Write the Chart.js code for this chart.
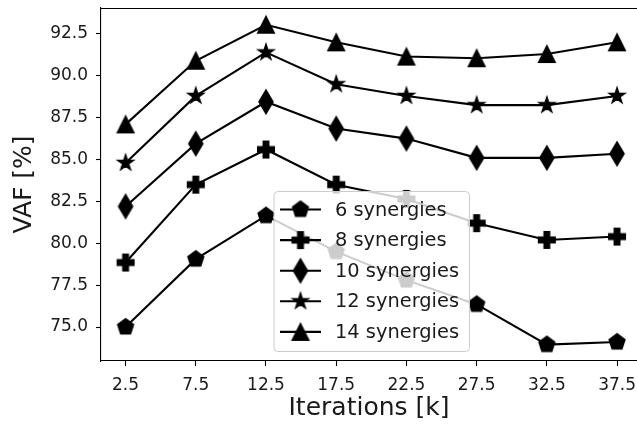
<!DOCTYPE html>
<html><head><meta charset="utf-8">
<script src="https://cdn.jsdelivr.net/npm/chart.js@4.4.1/dist/chart.umd.min.js"></script>
<style>html,body{margin:0;padding:0;background:#fff;overflow:hidden;width:637px;height:426px}canvas{display:block}</style>
</head><body>
<canvas id="c" width="637" height="426" style="width:637px;height:426px"></canvas>
<script>
// ---- data ----
const iterations = [2.5, 7.5, 12.5, 17.5, 22.5, 27.5, 32.5, 37.5];
const vaf6  = [75.0, 79.05, 81.65, 79.5, 77.8, 76.35, 73.95, 74.1];
const vaf8  = [78.85, 83.5, 85.6, 83.5, 82.65, 81.2, 80.2, 80.4];
const vaf10 = [82.2, 85.95, 88.45, 86.85, 86.25, 85.1, 85.1, 85.35];
const vaf12 = [84.8, 88.8, 91.4, 89.5, 88.8, 88.25, 88.25, 88.8];
const vaf14 = [87.1, 90.9, 93.05, 92.0, 91.15, 91.05, 91.3, 92.0];
const seriesLabels = ['6 synergies', '8 synergies', '10 synergies', '12 synergies', '14 synergies'];
const xTicks = [2.5, 7.5, 12.5, 17.5, 22.5, 27.5, 32.5, 37.5];
const yTicks = [75.0, 77.5, 80.0, 82.5, 85.0, 87.5, 90.0, 92.5];
const xTitle = 'Iterations [k]';
const yTitle = 'VAF [%]';

// ---- marker glyphs (matplotlib-like) ----
const MS = 16.67, EDGE = 1.39, FONT = 'DejaVu Sans', TXT = '#1a1a1a';
function marker(kind) {
  const c = document.createElement('canvas');
  c.width = 28; c.height = 28;
  const g = c.getContext('2d');
  const cx = 14, cy = 14, r = MS / 2;
  g.beginPath();
  if (kind === 'pentagon') {
    for (let k = 0; k < 5; k++) {
      const a = -Math.PI / 2 + k * 2 * Math.PI / 5;
      g.lineTo(cx + r * Math.cos(a), cy + r * Math.sin(a));
    }
  } else if (kind === 'plus') {
    const pts = [[-1,-3],[1,-3],[1,-1],[3,-1],[3,1],[1,1],[1,3],[-1,3],[-1,1],[-3,1],[-3,-1],[-1,-1]];
    pts.forEach(p => g.lineTo(cx + p[0] * MS / 6, cy + p[1] * MS / 6));
  } else if (kind === 'diamond') {
    const h = 0.7071 * MS, w = 0.6 * 0.7071 * MS;
    g.moveTo(cx, cy - h); g.lineTo(cx + w, cy); g.lineTo(cx, cy + h); g.lineTo(cx - w, cy);
  } else if (kind === 'star') {
    const ri = r * 0.381966;
    for (let k = 0; k < 10; k++) {
      const a = -Math.PI / 2 + k * Math.PI / 5;
      const rr = k % 2 === 0 ? r : ri;
      g.lineTo(cx + rr * Math.cos(a), cy + rr * Math.sin(a));
    }
  } else if (kind === 'triangle') {
    g.moveTo(cx, cy - r); g.lineTo(cx + r, cy + r); g.lineTo(cx - r, cy + r);
  }
  g.closePath();
  g.fillStyle = '#000'; g.fill();
  g.lineWidth = EDGE; g.lineJoin = 'miter'; g.strokeStyle = '#000'; g.stroke();
  return c;
}
const markerKinds = ['pentagon', 'plus', 'diamond', 'star', 'triangle'];
const seriesValues = [vaf6, vaf8, vaf10, vaf12, vaf14];

const datasets = seriesValues.map((vals, i) => ({
  label: seriesLabels[i],
  data: iterations.map((x, j) => ({ x: x, y: vals[j] })),
  borderColor: '#000',
  backgroundColor: '#000',
  borderWidth: 2.08,
  pointStyle: marker(markerKinds[i]),
  pointRadius: 9,
  tension: 0,
  fill: false
}));

const frame = {
  id: 'frame',
  afterDraw(chart) {
    const { ctx, chartArea: a } = chart;
    ctx.save();
    ctx.strokeStyle = '#000'; ctx.lineWidth = 1.1;
    ctx.beginPath();
    ctx.moveTo(a.left, Math.round(a.top) + 0.5); ctx.lineTo(chart.width, Math.round(a.top) + 0.5);
    ctx.stroke();
    ctx.restore();
  }
};

const boxLegend = {
  id: 'boxLegend',
  afterDatasetsDraw(chart) {
    const { ctx, chartArea: a } = chart;
    const x0 = a.left + 172.5, y0 = a.top + 183, w = 195.5, h = 160;
    ctx.save();
    ctx.beginPath();
    ctx.roundRect(x0 + 0.5, y0 + 0.5, w, h, 4);
    ctx.fillStyle = 'rgba(255,255,255,0.8)'; ctx.fill();
    ctx.strokeStyle = '#cccccc'; ctx.lineWidth = 1; ctx.stroke();
    ctx.font = '19.4px "' + FONT + '"';
    ctx.textBaseline = 'middle'; ctx.textAlign = 'left';
    chart.data.datasets.forEach((ds, i) => {
      const yy = y0 + 18.5 + i * 30.6;
      ctx.beginPath();
      ctx.moveTo(x0 + 6.5, yy); ctx.lineTo(x0 + 47.5, yy);
      ctx.strokeStyle = '#000'; ctx.lineWidth = 2.08; ctx.stroke();
      const img = ds.pointStyle;
      ctx.drawImage(img, x0 + 27 - img.width / 2, yy - img.height / 2);
      ctx.fillStyle = TXT;
      ctx.fillText(ds.label, x0 + 61.5, yy + 1);
    });
    ctx.restore();
  }
};

new Chart(document.getElementById('c'), {
  type: 'line',
  data: { datasets: datasets },
  options: {
    responsive: false,
    animation: false,
    devicePixelRatio: 1,
    layout: { autoPadding: false, padding: { top: 8, right: 0, left: 0, bottom: 0 } },
    plugins: { legend: { display: false }, tooltip: { enabled: false } },
    scales: {
      x: {
        type: 'linear', min: 0.75, max: 38.92,
        afterBuildTicks: s => { s.ticks = xTicks.map(v => ({ value: v })); },
        afterFit: s => { s.height = 65; s.paddingLeft = 0; s.paddingRight = 0; },
        ticks: { callback: v => v.toFixed(1), font: { family: FONT, size: 17 }, color: TXT, padding: 9, maxRotation: 0, autoSkip: false },
        grid: { display: true, drawOnChartArea: false, drawTicks: true, tickLength: 5, tickWidth: 1.1, tickColor: '#000' },
        border: { display: true, color: '#000', width: 1.1 },
        title: { display: true, text: xTitle, color: TXT, font: { family: FONT, size: 25 }, padding: { top: 0, bottom: 2.5 } }
      },
      y: {
        type: 'linear', min: 72.97, max: 94.05,
        afterBuildTicks: s => { s.ticks = yTicks.map(v => ({ value: v })); },
        afterFit: s => { s.width = 101; s.paddingTop = 0; s.paddingBottom = 0; },
        ticks: { callback: v => v.toFixed(1), font: { family: FONT, size: 17 }, color: TXT, padding: 8, autoSkip: false },
        grid: { display: true, drawOnChartArea: false, drawTicks: true, tickLength: 5, tickWidth: 1.1, tickColor: '#000' },
        border: { display: true, color: '#000', width: 1.1 },
        title: { display: true, text: yTitle, color: TXT, font: { family: FONT, size: 25 }, padding: { top: 9.4, bottom: 0 } }
      }
    }
  },
  plugins: [frame, boxLegend]
});
</script>
</body></html>
